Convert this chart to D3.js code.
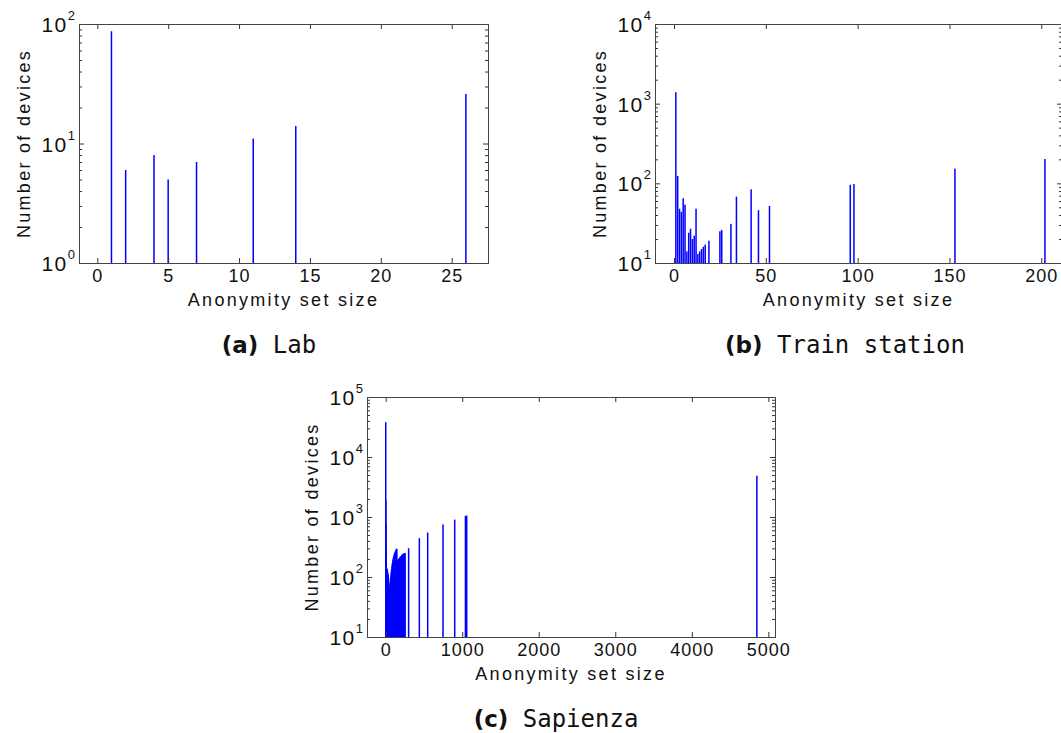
<!DOCTYPE html>
<html>
<head>
<meta charset="utf-8">
<script src="https://cdn.jsdelivr.net/npm/d3@7"></script>
<style>
body { margin: 0; background: #fff; }
svg text { font-family: "Liberation Sans", Arial, sans-serif; fill: #111; }
.tick text { font-size: 18px; letter-spacing: 1px; }
.cap-tag { font-family: "DejaVu Sans", sans-serif; font-weight: bold; }
.cap-name { font-family: "DejaVu Sans Mono", monospace; }
</style>
</head>
<body>
<svg id="chart" width="1061" height="733"></svg>
<script>
// (a) Lab
const labSizes = [1, 2, 4, 5, 7, 11, 14, 26];
const labDevices = [87, 6, 8, 5, 7, 11, 14, 26];
const labXTicks = [0, 5, 10, 15, 20, 25];
const labYTicks = [1, 10, 100];

// (b) Train station
const trainSizes = [1, 2, 3, 4, 5, 6, 7, 8, 9, 10, 11, 12, 13, 14, 15, 16, 17, 19,
  25, 26, 31, 34, 42, 46, 52, 96, 98, 153, 202];
const trainDevices = [1390, 124, 48, 44, 65, 54, 14, 24, 27, 20, 22, 48, 13, 14, 15, 16, 17, 19,
  25, 26, 31, 68, 84, 46, 52, 96, 98, 153, 202];
const trainXTicks = [0, 50, 100, 150, 200];
const trainYTicks = [10, 100, 1000, 10000];

// (c) Sapienza
const sapSizes = [1, 2, 3, 4, 5, 7, 10, 14, 18, 22, 26, 30, 34, 38, 42, 46, 50, 54, 58, 62,
  66, 70, 74, 78, 83, 87, 92, 96, 101, 105, 110, 115, 120, 126, 131, 136, 140, 145,
  148, 152, 157, 161, 166, 170, 175, 179, 184, 190, 195, 200, 205, 210, 214, 218,
  222, 226, 231, 235, 240, 244, 249, 253,
  300, 440, 549, 749, 902, 1042, 1059, 4850];
const sapDevices = [38000, 1880, 770, 320, 190, 150, 140, 135, 138, 128, 120, 112, 104, 94, 80, 66, 58, 64, 72, 84,
  96, 110, 123, 136, 152, 170, 184, 196, 210, 219, 232, 244, 255, 265, 274, 284, 291, 296,
  181, 176, 186, 193, 196, 200, 203, 205, 210, 214, 219, 219, 225, 228, 232, 234,
  238, 240, 243, 243, 246, 248, 250, 250,
  302, 444, 551, 750, 905, 1045, 1060, 4870];
const sapXTicks = [0, 1000, 2000, 3000, 4000, 5000];
const sapYTicks = [10, 100, 1000, 10000, 100000];

const svg = d3.select('#chart');

function panel(p) {
  const x = d3.scaleLinear().domain(p.xDomain).range([p.left, p.right]);
  const y = d3.scaleLog().domain([p.yTicks[0], p.yTicks[p.yTicks.length - 1]]).range([p.bottom, p.top]);
  const g = svg.append('g');

  const minors = y.ticks().filter(v => Math.abs(Math.log10(v) - Math.round(Math.log10(v))) > 1e-9);

  // bars
  g.selectAll('rect.bar')
    .data(d3.zip(p.sizes, p.devices))
    .join('rect')
    .attr('class', 'bar')
    .attr('x', d => x(d[0]) - 0.75)
    .attr('width', 1.5)
    .attr('y', d => y(d[1]))
    .attr('height', d => p.bottom - y(d[1]))
    .attr('fill', '#0000ff');

  // ticks pointing inward, matlab style
  g.append('g').attr('transform', `translate(0,${p.bottom})`)
    .call(d3.axisBottom(x).tickValues(p.xTicks).tickSize(-5).tickSizeOuter(0).tickPadding(6).tickFormat(d3.format('d')));
  g.append('g').attr('transform', `translate(0,${p.top})`)
    .call(d3.axisTop(x).tickValues(p.xTicks).tickSize(-5).tickSizeOuter(0).tickFormat(''));
  [[d3.axisLeft, p.left], [d3.axisRight, p.right]].forEach(([ax, pos]) => {
    g.append('g').attr('transform', `translate(${pos},0)`)
      .call(ax(y).tickValues(p.yTicks).tickSize(-5).tickSizeOuter(0).tickFormat(''));
    g.append('g').attr('transform', `translate(${pos},0)`)
      .call(ax(y).tickValues(minors).tickSize(-3).tickSizeOuter(0).tickFormat(''));
  });
  g.selectAll('.domain').remove();
  g.selectAll('.tick line').attr('stroke', '#333');

  g.append('rect')
    .attr('x', p.left + 0.5).attr('y', p.top + 0.5)
    .attr('width', p.right - p.left).attr('height', p.bottom - p.top)
    .attr('fill', 'none').attr('stroke', '#444').attr('stroke-width', 1);

  // y tick labels 10^k
  const lab = g.selectAll('text.ylab').data(p.yTicks).join('text')
    .attr('class', 'ylab')
    .attr('text-anchor', 'end')
    .attr('x', p.left - 4)
    .attr('y', d => y(d) + 8);
  lab.append('tspan').attr('font-size', 21).attr('letter-spacing', 1.5).text('10');
  lab.append('tspan').attr('font-size', 13).attr('dy', -12).text(d => Math.round(Math.log10(d)));

  g.append('text')
    .attr('x', (p.left + p.right) / 2).attr('y', p.bottom + 43)
    .attr('text-anchor', 'middle').attr('font-size', 18).attr('letter-spacing', 2.3)
    .text('Anonymity set size');

  g.append('text')
    .attr('transform', `translate(${p.left - 49},${(p.top + p.bottom) / 2}) rotate(-90)`)
    .attr('text-anchor', 'middle').attr('font-size', 18).attr('letter-spacing', 2.3)
    .text('Number of devices');

  const cap = g.append('text')
    .attr('x', p.capX).attr('y', p.capY)
    .attr('text-anchor', 'middle').attr('font-size', 24);
  cap.append('tspan').attr('class', 'cap-tag').attr('font-size', 23).text(p.tag);
  cap.append('tspan').attr('class', 'cap-name').text(' ' + p.name);
}

panel({
  sizes: labSizes, devices: labDevices, xTicks: labXTicks, yTicks: labYTicks,
  xDomain: [-1.29, 27.56], left: 79, right: 488, top: 24, bottom: 263,
  tag: '(a)', name: 'Lab', capX: 269, capY: 353
});
panel({
  sizes: trainSizes, devices: trainDevices, xTicks: trainXTicks, yTicks: trainYTicks,
  xDomain: [-10.35, 211.3], left: 655, right: 1062, top: 24, bottom: 263,
  tag: '(b)', name: 'Train station', capX: 845, capY: 353
});
panel({
  sizes: sapSizes, devices: sapDevices, xTicks: sapXTicks, yTicks: sapYTicks,
  xDomain: [-244, 5087], left: 367, right: 775, top: 397, bottom: 637,
  tag: '(c)', name: 'Sapienza', capX: 556, capY: 727
});
</script>
</body>
</html>
